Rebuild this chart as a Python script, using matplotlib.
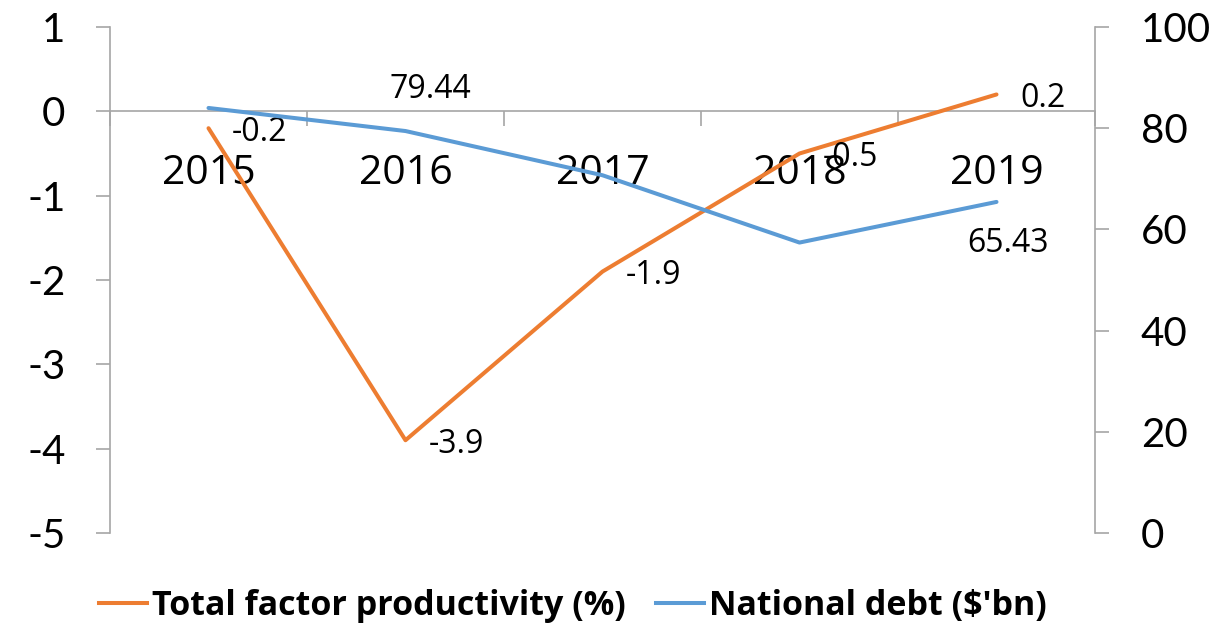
import matplotlib
matplotlib.use("Agg")
import matplotlib.pyplot as plt
from matplotlib.lines import Line2D

years = ["2015", "2016", "2017", "2018", "2019"]
tfp = [-0.2, -3.9, -1.9, -0.5, 0.2]
debt = [84.0, 79.44, 70.7, 57.4, 65.43]
tfp_labels = ["-0.2", "-3.9", "-1.9", "-0.5", "0.2"]
debt_labels = [None, "79.44", None, None, "65.43"]
left_ticks = [-5, -4, -3, -2, -1, 0, 1]
right_ticks = [0, 20, 40, 60, 80, 100]

ORANGE = "#ED7D31"
BLUE = "#5B9BD5"
GRAY = "#A6A6A6"

fig = plt.figure(figsize=(12.22, 6.29), dpi=100)
ax = fig.add_axes([110/1222, 1-533/629, (1095-110)/1222, (533-27)/629])
ax2 = ax.twinx()

x = list(range(len(years)))
ax.plot(x, tfp, color=ORANGE, lw=2.9, solid_capstyle="round", zorder=3)
ax2.plot(x, debt, color=BLUE, lw=2.9, solid_capstyle="round", zorder=3)

ax.set_xlim(-0.5, len(years) - 0.5)
ax.set_ylim(-5, 1)
ax2.set_ylim(0, 100)

for s in ["top", "right"]:
    ax.spines[s].set_visible(False)
for s in ["top", "left", "bottom"]:
    ax2.spines[s].set_visible(False)
ax.spines["bottom"].set_position(("data", 0))
for sp in [ax.spines["left"], ax.spines["bottom"], ax2.spines["right"]]:
    sp.set_color(GRAY)
    sp.set_linewidth(1.2)

tick_font = dict(family="Lato", size=29)
ax.set_yticks(left_ticks)
ax.set_yticklabels([str(v) for v in left_ticks], fontdict=tick_font)
ax.tick_params(axis="y", length=10, width=1.2, color=GRAY, pad=22)
ax2.set_yticks(right_ticks)
ax2.set_yticklabels([str(v) for v in right_ticks], fontdict=tick_font)
ax2.tick_params(axis="y", length=10, width=1.2, color=GRAY, pad=23)

ax.set_xticks(x)
ax.set_xticklabels(years, family="Open Sans", size=29.5)
ax.set_xticks([i - 0.5 for i in range(len(years) + 1)], minor=True)
ax.tick_params(axis="x", which="major", length=0, pad=30)
ax.tick_params(axis="x", which="minor", length=11, width=1.2, color=GRAY)

lab_font = dict(family="Open Sans", size=23)
for i, (v, t) in enumerate(zip(tfp, tfp_labels)):
    ax.annotate(t, (i, v), xytext=(17, -3), textcoords="offset points",
                ha="left", va="center", zorder=5, **lab_font)
debt_offsets = {1: (18, 30), 4: (8, -30)}
for i, (v, t) in enumerate(zip(debt, debt_labels)):
    if t is None:
        continue
    ax2.annotate(t, (i, v), xytext=debt_offsets[i], textcoords="offset points",
                 ha="center", va="center", zorder=5, **lab_font)

handles = [Line2D([], [], color=ORANGE, lw=2.9),
           Line2D([], [], color=BLUE, lw=2.9)]
fig.legend(handles, ["Total factor productivity (%)", "National debt ($'bn)"],
           loc="center", bbox_to_anchor=(573/1222, 1-606/629), ncol=2,
           frameon=False, handlelength=1.4, handletextpad=0.15,
           columnspacing=0.9, prop=dict(family="Open Sans", weight="bold", size=24.5))

fig.savefig("out.png", dpi=100)
